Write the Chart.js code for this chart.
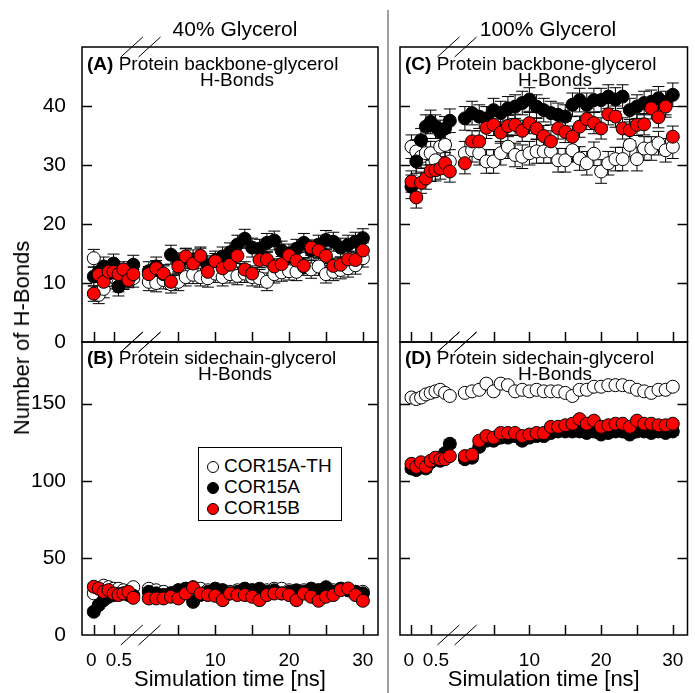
<!DOCTYPE html>
<html>
<head>
<meta charset="utf-8">
<script src="https://cdn.jsdelivr.net/npm/chart.js@4.4.1/dist/chart.umd.min.js"></script>
<style>
  body { margin: 0; background: #fff; width: 695px; height: 693px; position: relative; overflow: hidden;
         font-family: "Liberation Sans", Arial, sans-serif; color: #000; }
  canvas { position: absolute; left: 0; top: 0; }
  .t { position: absolute; white-space: nowrap; line-height: 1; }
  .c { transform: translate(-50%, -50%); }
  .l { transform: translate(0, -50%); }
  #divider { position: absolute; left: 387px; top: 10px; width: 2px; height: 683px; background: #a0a0a0; }
  #legend { position: absolute; left: 198px; top: 447px; width: 142px; height: 72px; border: 1.5px solid #000;
            background: #fff; font-size: 19px; }
  #legend div { position: absolute; left: 8px; height: 20px; line-height: 20px; }
  #legend span { display: inline-block; width: 10px; height: 10px; border-radius: 50%; border: 1px solid #000;
                 margin-right: 5px; vertical-align: -1px; }
</style>
</head>
<body>
<div id="divider"></div>
<canvas id="cA" width="695" height="693"></canvas>
<canvas id="cB" width="695" height="693"></canvas>
<canvas id="cC" width="695" height="693"></canvas>
<canvas id="cD" width="695" height="693"></canvas>

<div class="t c" style="left:235px;top:28px;font-size:21px">40% Glycerol</div>
<div class="t c" style="left:548px;top:28px;font-size:21px">100% Glycerol</div>

<div class="t l" style="left:87px;top:63px;font-size:19px"><b>(A)</b> Protein backbone-glycerol</div>
<div class="t c" style="left:237px;top:79px;font-size:19px">H-Bonds</div>
<div class="t l" style="left:87px;top:357px;font-size:19px"><b>(B)</b> Protein sidechain-glycerol</div>
<div class="t c" style="left:235px;top:373px;font-size:19px">H-Bonds</div>
<div class="t l" style="left:405px;top:63px;font-size:19px"><b>(C)</b> Protein backbone-glycerol</div>
<div class="t c" style="left:555px;top:79px;font-size:19px">H-Bonds</div>
<div class="t l" style="left:405px;top:357px;font-size:19px"><b>(D)</b> Protein sidechain-glycerol</div>
<div class="t c" style="left:555px;top:373px;font-size:19px">H-Bonds</div>

<div class="t c" style="left:22px;top:338px;font-size:22px;transform:translate(-50%,-50%) rotate(-90deg)">Number of H-Bonds</div>

<div id="legend">
  <div style="top:8px"><span style="background:#fff"></span>COR15A-TH</div>
  <div style="top:29px"><span style="background:#000"></span>COR15A</div>
  <div style="top:50px"><span style="background:#f00"></span>COR15B</div>
</div>

<script>
// time points: short segment (0-1 ns) and long segment (1-30 ns)
const tShort = [0, 0.125, 0.25, 0.375, 0.5, 0.625, 0.75, 0.875, 1.0];
const tLong = [1, 2, 3, 4, 5, 6, 7, 8, 9, 10, 11, 12, 13, 14, 15,
               16, 17, 18, 19, 20, 21, 22, 23, 24, 25, 26, 27, 28, 29, 30];

const seriesNames = ["COR15A-TH", "COR15A", "COR15B"];
const seriesColors = ["#ffffff", "#000000", "#ff0000"];

const xTickTimes = [0, 0.5, 5, 10, 15, 20, 25, 30];
const xTickLabels = ["0 ", "  0.5", "", "10", "", "20", "", "30"];
const yTicksTop = [0, 10, 20, 30, 40];
const yTicksBottom = [0, 50, 100, 150];

// (A) 40% glycerol, backbone
const aTH = [14.2, 8.0, 9.0, 10.5, 11.0, 10.0, 10.5, 11.0, 10.8,
  10.2, 10.0, 10.5, 9.8, 10.2, 11.0, 11.4, 11.0, 10.8, 11.6, 11.0, 11.5, 11.2, 11.6, 11.0,
  10.8, 10.2, 11.5, 11.8, 12.0, 11.9, 12.8, 12.3, 12.8, 11.5, 11.9, 12.2, 12.5, 13.0, 14.2];
const aA = [11.1, 11.9, 12.8, 11.6, 13.3, 9.4, 10.5, 11.6, 13.1,
  12.0, 12.8, 11.5, 14.8, 13.5, 14.3, 14.0, 14.5, 13.0, 13.8, 14.5, 15.2, 16.5, 17.5, 16.0,
  15.8, 16.8, 17.2, 15.5, 15.0, 15.8, 16.8, 15.5, 16.5, 17.3, 17.0, 16.0, 16.5, 17.0, 17.6];
const aB = [8.2, 11.4, 10.2, 11.9, 11.9, 11.5, 12.3, 10.5, 11.5,
  11.5, 12.5, 11.6, 10.2, 12.8, 14.5, 13.3, 14.6, 11.9, 13.7, 12.5, 13.1, 14.6, 12.3, 11.6,
  13.9, 14.0, 12.8, 13.2, 14.7, 13.8, 12.9, 16.0, 15.5, 14.6, 12.9, 13.1, 14.0, 13.9, 15.5];
const aErr = [1.5, 1.6, 1.3];

// (B) 40% glycerol, sidechain
const bTH = [27, 30, 32, 31, 30, 30, 29, 28, 31,
  30, 29, 28, 27, 29, 30, 31, 30, 29, 30, 29, 28, 29, 30, 29,
  28, 29, 30, 30, 29, 28, 29, 30, 29, 28, 29, 30, 29, 28, 28];
const bA = [15.1, 19.4, 22.6, 24.8, 25.9, 26.5, 27.0, 26.0, 25.5,
  28, 27, 26, 27, 29, 30, 21.5, 26, 28, 30, 29, 27, 28, 30, 29,
  30, 28, 29, 27, 28, 29, 28, 30, 29, 31, 28, 30, 29, 28, 27];
const bB = [31.3, 30.2, 28.0, 29.1, 26.9, 25.9, 26.9, 28.0, 24.1,
  23.7, 23.7, 23.7, 24.8, 23.7, 26.9, 30.8, 26.9, 25.9, 25.4, 22.6, 26.9, 25.9, 25.9, 24.8,
  22.6, 25.9, 26.9, 26.9, 25.9, 22.6, 26.9, 24.8, 22.2, 24.8, 25.9, 29.1, 30.2, 25.9, 22.2];
const bErr = [2, 2, 2];

// (C) 100% glycerol, backbone
const cTH = [33.1, 32.3, 31.4, 32.0, 32.0, 30.8, 33.1, 33.4, 30.6,
  32.0, 32.5, 32.0, 30.6, 30.6, 32.0, 33.1, 31.7, 31.4, 32.0, 32.3, 32.3, 32.3, 30.8, 30.8,
  32.5, 31.1, 30.3, 31.9, 28.9, 30.3, 31.0, 31.0, 33.4, 31.0, 32.8, 32.8, 33.7, 32.5, 33.1];
const cA = [26.3, 30.6, 34.2, 36.5, 37.3, 36.5, 35.6, 36.2, 37.5,
  37.9, 38.8, 38.2, 37.9, 39.3, 38.8, 39.6, 39.9, 40.5, 41.1, 39.9, 39.3, 38.8, 38.5, 38.2,
  40.2, 41.0, 40.2, 41.0, 41.0, 41.6, 41.1, 41.6, 39.3, 39.9, 40.5, 40.7, 41.3, 40.5, 41.9];
const cB = [27.2, 24.5, 27.0, 27.7, 29.0, 29.1, 29.4, 30.3, 28.9,
  30.3, 34.0, 34.0, 36.3, 36.8, 35.5, 36.6, 36.8, 35.8, 37.1, 36.2, 34.9, 34.0, 36.2, 35.6,
  34.8, 36.5, 37.8, 37.1, 36.2, 38.6, 38.2, 36.2, 35.9, 36.8, 36.9, 39.6, 38.1, 39.9, 34.8];
const cErr = [2, 2, 1.8];

// (D) 100% glycerol, sidechain
const dTH = [154, 153, 154, 156, 157, 158, 159, 157, 155,
  157, 158, 159, 163, 158, 163, 162, 158, 159, 158, 159, 158, 158, 158, 157,
  155, 159, 159, 161, 161, 162, 162, 162, 161, 159, 158, 157, 159, 159, 161];
const dA = [108, 107, 110, 108, 112, 114, 113, 118, 124,
  114, 115, 122, 126, 126, 128, 128, 129, 126, 128, 129, 129, 131, 132, 132,
  132, 132, 131, 132, 130, 131, 132, 132, 130, 132, 132, 131, 132, 131, 132];
const dB = [111, 109, 112, 109, 113, 115, 114, 114, 116,
  116, 117, 126, 129, 128, 131, 131, 131, 129, 130, 131, 131, 135, 135, 136,
  137, 140, 137, 139, 135, 136, 137, 137, 135, 139, 137, 137, 136, 136, 137];
const dErr = [2, 2.5, 2];

// broken x axis: short segment is stretched, long segment shifted
const SHORT_SCALE = 5.35, LONG_SHIFT = 6.45;
const uShort = t => t * SHORT_SCALE;
const uLong = t => t + LONG_SHIFT;
const xU = tShort.map(uShort).concat(tLong.map(uLong));
const xTickU = xTickTimes.map(t => (t <= 0.5 ? uShort(t) : uLong(t)));
const breakU = [5.15, 7.55];

const panelPlugin = {
  id: "panel",
  beforeDatasetsDraw(chart) {
    const ctx = chart.ctx, xs = chart.scales.x, ys = chart.scales.y;
    ctx.save();
    ctx.strokeStyle = "#000";
    ctx.lineWidth = 1;
    chart.data.datasets.slice().reverse().forEach(ds => {
      ds.data.forEach(p => {
        const x = xs.getPixelForValue(p.x);
        const y1 = ys.getPixelForValue(p.y - ds.err);
        const y2 = ys.getPixelForValue(p.y + ds.err);
        ctx.beginPath();
        ctx.moveTo(x, y1); ctx.lineTo(x, y2);
        ctx.moveTo(x - 6, y1); ctx.lineTo(x + 6, y1);
        ctx.moveTo(x - 6, y2); ctx.lineTo(x + 6, y2);
        ctx.stroke();
      });
    });
    ctx.restore();
  },
  afterDraw(chart) {
    const ctx = chart.ctx, a = chart.chartArea, xs = chart.scales.x, ys = chart.scales.y;
    ctx.save();
    ctx.strokeStyle = "#000";
    ctx.lineWidth = 1.5;
    ctx.strokeRect(a.left, a.top, a.right - a.left, a.bottom - a.top);
    ctx.beginPath();
    ys.ticks.forEach(tk => {
      if (tk.value === 0) return;
      const y = Math.round(ys.getPixelForValue(tk.value)) + 0.5;
      ctx.moveTo(a.left, y); ctx.lineTo(a.left + 10, y);
      ctx.moveTo(a.right, y); ctx.lineTo(a.right - 10, y);
    });
    xTickU.forEach(u => {
      const x = Math.round(xs.getPixelForValue(u)) + 0.5;
      ctx.moveTo(x, a.bottom); ctx.lineTo(x, a.bottom - 10);
    });
    ctx.stroke();
    // axis break marks
    ctx.lineWidth = 1;
    ctx.beginPath();
    [a.top, a.bottom].forEach(y => {
      breakU.forEach(u => {
        const x = xs.getPixelForValue(u);
        ctx.moveTo(x - 11, y + 10); ctx.lineTo(x + 11, y - 10);
      });
    });
    ctx.stroke();
    ctx.restore();
  }
};

function makePanel(id, rect, yMax, yTicks, leftLabels, bottomLabels, values, errs) {
  const yW = leftLabels ? rect.l : 10;
  const xH = bottomLabels ? 693 - rect.b : 18;
  const datasets = values.map((vals, i) => ({
    label: seriesNames[i],
    data: vals.map((v, k) => ({ x: xU[k], y: v })),
    err: errs[i],
    backgroundColor: seriesColors[i],
    borderColor: "#000",
    borderWidth: 1,
    pointRadius: 6.5,
    pointHoverRadius: 6.5,
    order: 2 - i
  }));
  return new Chart(document.getElementById(id), {
    type: "scatter",
    data: { datasets },
    plugins: [panelPlugin],
    options: {
      responsive: false,
      animation: false,
      devicePixelRatio: 1,
      layout: { padding: { left: rect.l - yW, top: rect.t, right: 695 - rect.r, bottom: 693 - rect.b - xH } },
      plugins: { legend: { display: false }, tooltip: { enabled: false } },
      scales: {
        x: {
          type: "linear", min: -1.6, max: 38.5,
          grid: { display: false }, border: { display: false },
          afterBuildTicks: s => { s.ticks = xTickU.map(u => ({ value: u })); },
          afterFit: s => { s.height = xH; },
          ticks: {
            display: bottomLabels, autoSkip: false, maxRotation: 0, padding: 6,
            color: "#000", font: { family: "Liberation Sans", size: 19 },
            callback: (v, i) => xTickLabels[i]
          },
          title: {
            display: bottomLabels, text: "Simulation time [ns]", color: "#000",
            font: { family: "Liberation Sans", size: 22 }, padding: 0
          }
        },
        y: {
          min: 0, max: yMax,
          grid: { display: false }, border: { display: false },
          afterBuildTicks: s => { s.ticks = yTicks.map(v => ({ value: v })); },
          afterFit: s => { s.width = yW; },
          ticks: {
            display: leftLabels, padding: 8, color: "#000",
            font: { family: "Liberation Sans", size: 21 }
          }
        }
      }
    }
  });
}

makePanel("cA", { l: 82, t: 47, r: 378, b: 342 }, 50, yTicksTop, true, false, [aTH, aA, aB], aErr);
makePanel("cB", { l: 82, t: 342, r: 378, b: 635 }, 190, yTicksBottom, true, true, [bTH, bA, bB], bErr);
makePanel("cC", { l: 400, t: 47, r: 694, b: 342 }, 50, yTicksTop, false, false, [cTH, cA, cB], cErr);
makePanel("cD", { l: 400, t: 342, r: 694, b: 635 }, 190, yTicksBottom, false, true, [dTH, dA, dB], dErr);
</script>
</body>
</html>
